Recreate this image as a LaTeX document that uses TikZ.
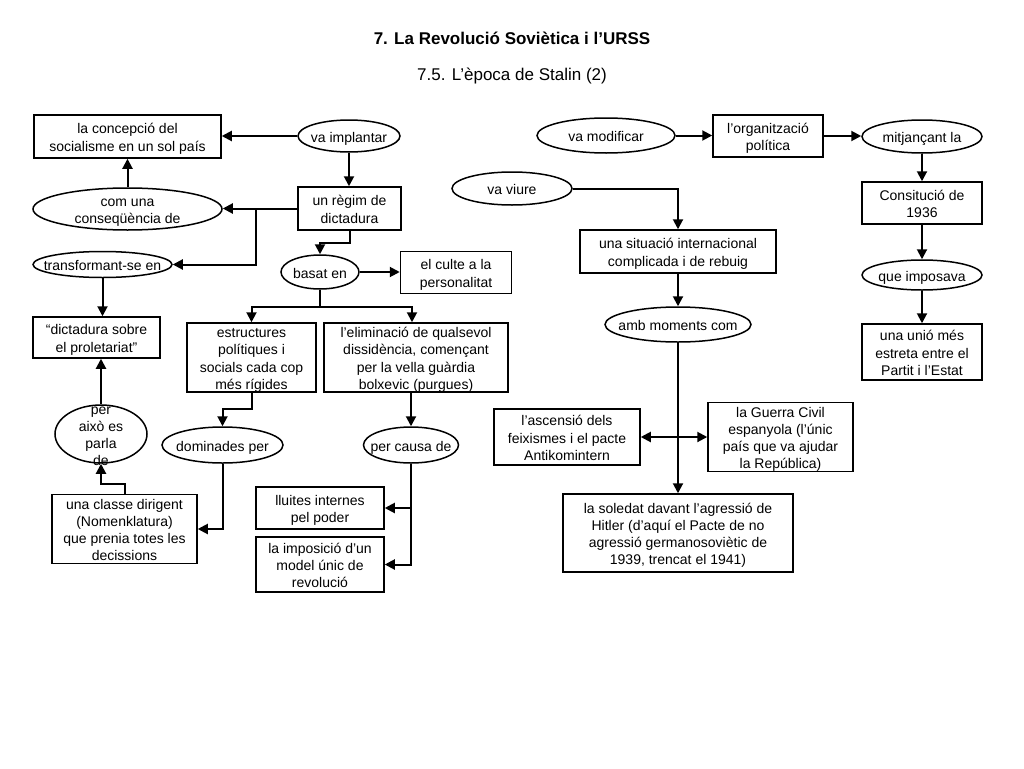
\documentclass[tikz,border=0pt]{standalone}
\usepackage{fontspec}
\setmainfont{Liberation Sans}
\usetikzlibrary{arrows.meta,shapes.geometric}
\newcommand\tx[1]{\raisebox{-2.6pt}[\height][\depth]{\begin{tabular}{@{}c@{}}#1\end{tabular}}}
\begin{document}
\begin{tikzpicture}[x=1pt,y=-1pt,
  every node/.style={font=\fontsize{14}{17.2}\selectfont, inner sep=0pt},
  box/.style={draw, line width=1.5pt, rectangle},
  ell/.style={draw, line width=1.5pt, ellipse},
  wh/.style 2 args={minimum width=#1pt, minimum height=#2pt},
  arr/.style={line width=2pt, -{Triangle[length=10pt,width=10pt]}},
  ln/.style={line width=2pt}]
\fill[white] (0,0) rectangle (1024,768);
\useasboundingbox (0,0) rectangle (1024,768);

% titles
\node[font=\fontsize{17}{20}\selectfont\bfseries] (title) at (512,38) {7. La Revolució Soviètica i l’URSS};
\node[font=\fontsize{17}{20}\selectfont] (subtitle) at (512,76) {7.5. L’època de Stalin (2)};

% left part
\node[box, wh={187}{43}] (concep) at (127.5,136.5) {\tx{la concepció del\\socialisme en un sol país}};
\node[ell, wh={102}{32}] (vaimpl) at (349,136) {};
\node (vaimpl-t) at (vaimpl) {\tx{va implantar}};
\node[box, wh={103}{43}] (regim) at (349.5,208.5) {\tx{un règim de\\dictadura}};
\node[ell, wh={189}{42}] (comuna) at (127.5,209) {};
\node (comuna-t) at (comuna) {\tx{com una\\conseqüència de}};
\node[ell, wh={139}{26}] (transf) at (102.5,264.5) {};
\node (transf-t) at (transf) {\tx{transformant-se en}};
\node[ell, wh={78}{34}] (basat) at (320,272) {};
\node (basat-t) at (basat) {\tx{basat en}};
\node[box, wh={111}{42}] (culte) at (456,272.5) {\tx{el culte a la\\personalitat}};
\node[box, wh={129}{69}] (estr) at (251.5,357.5) {\tx{estructures\\polítiques i\\socials cada cop\\més rígides}};
\node[box, wh={184}{69}] (elim) at (416,357.5) {\tx{l’eliminació de qualsevol\\dissidència, començant\\per la vella guàrdia\\bolxevic (purgues)}};
\node[box, wh={127}{41}] (dict) at (96.5,337.5) {\tx{“dictadura sobre\\el proletariat”}};
\node[ell, wh={92}{58}] (peraixo) at (101,434) {};
\node (peraixo-t) at (peraixo) {\tx{per\\això es\\parla\\de}};
\node[ell, wh={121}{36}] (domin) at (222.5,445) {};
\node (domin-t) at (domin) {\tx{dominades per}};
\node[box, wh={145}{68}] (classe) at (124.5,529) {\tx{una classe dirigent\\(Nomenklatura)\\que prenia totes les\\decissions}};
\node[ell, wh={95}{36}] (percausa) at (411,445) {};
\node (percausa-t) at (percausa) {\tx{per causa de}};
\node[box, wh={128}{42}] (lluites) at (320,508) {\tx{lluites internes\\pel poder}};
\node[box, wh={128}{55}] (impos) at (320,564.5) {\tx{la imposició d’un\\model únic de\\revolució}};

% right part
\node[ell, wh={138}{35}] (vamod) at (606,135.5) {};
\node (vamod-t) at (vamod) {\tx{va modificar}};
\node[box, wh={110}{42}] (organ) at (768,136) {\tx{l’organització\\política}};
\node[ell, wh={120}{33}] (mitj) at (922,136.5) {};
\node (mitj-t) at (mitj) {\tx{mitjançant la}};
\node[box, wh={120}{42}] (const) at (922,203) {\tx{Consitució de\\1936}};
\node[ell, wh={120}{30}] (queimp) at (922,275) {};
\node (queimp-t) at (queimp) {\tx{que imposava}};
\node[box, wh={120}{56}] (unio) at (922,352) {\tx{una unió més\\estreta entre el\\Partit i l’Estat}};
\node[ell, wh={120}{33}] (vaviure) at (512,188.5) {};
\node (vaviure-t) at (vaviure) {\tx{va viure}};
\node[box, wh={196}{43}] (sit) at (678,251.5) {\tx{una situació internacional\\complicada i de rebuig}};
\node[ell, wh={146}{35}] (amb) at (678,324.5) {};
\node (amb-t) at (amb) {\tx{amb moments com}};
\node[box, wh={146}{56}] (ascens) at (567,437) {\tx{l’ascensió dels\\feixismes i el pacte\\Antikomintern}};
\node[box, wh={145}{69}] (guerra) at (780.5,437) {\tx{la Guerra Civil\\espanyola (l’únic\\país que va ajudar\\la República)}};
\node[box, wh={230}{78}] (soled) at (678,533) {\tx{la soledat davant l’agressió de\\Hitler (d’aquí el Pacte de no\\agressió germanosoviètic de\\1939, trencat el 1941)}};

% connectors left
\draw[arr] (vaimpl.west) -- (vaimpl.west -| concep.east);
\draw[arr] (vaimpl.south) -- (vaimpl.south |- regim.north);
\draw[arr] (comuna.north) -- (comuna.north |- concep.south);
\draw[arr] (regim.west) -- (regim.west -| comuna.east);
\coordinate (j1) at (256,208.5);
\draw[arr] (j1) |- (transf.east);
\draw[arr] (regim.south) -- ++(0,12.5) -| (basat.north);
\draw[arr] (basat.east) -- (basat.east -| culte.west);
\draw[ln] (basat.south) -- ++(0,17) coordinate (j3);
\draw[arr] (j3) -| (estr.north);
\draw[arr] (j3) -| ([xshift=-4pt]elim.north);
\draw[arr] (estr.south) -- ++(0,16) -| (domin.north);
\draw[arr] (domin.south) |- (classe.east);
\draw[arr] (classe.north) -- ++(0,-10) -| (peraixo.south);
\draw[arr] (peraixo.north) -- (peraixo.north |- dict.south);
\draw[arr] (transf.south) -- (transf.south |- dict.north);
\draw[arr] (percausa.north |- elim.south) -- (percausa.north);
\draw[arr] (percausa.south) |- (impos.east);
\draw[arr] (percausa.south |- lluites.east) -- (lluites.east);

% connectors right
\draw[arr] (vamod.east) -- (vamod.east -| organ.west);
\draw[arr] (organ.east) -- (organ.east -| mitj.west);
\draw[arr] (mitj.south) -- (const.north);
\draw[arr] (const.south) -- (queimp.north);
\draw[arr] (queimp.south) -- (unio.north);
\draw[arr] (vaviure.east) -| (sit.north);
\draw[arr] (sit.south) -- (amb.north);
\draw[arr] (amb.south) -- (soled.north);
\coordinate (j5) at (678,437);
\draw[arr] (j5) -- (ascens.east);
\draw[arr] (j5) -- (guerra.west);
\end{tikzpicture}
\end{document}
